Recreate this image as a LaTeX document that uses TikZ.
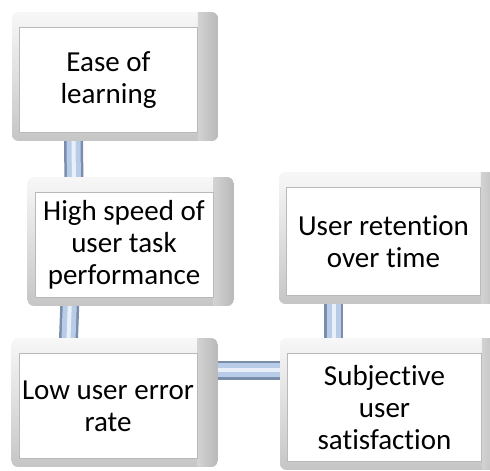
\documentclass[tikz,border=0pt]{standalone}
\usepackage{fontspec}
\setmainfont{Carlito}[Ligatures=NoCommon]
\usetikzlibrary{backgrounds}
\pgfdeclarelayer{frames}
\pgfsetlayers{background,frames,main}

\definecolor{tubeedge}{RGB}{122,142,172}
\definecolor{tubefill}{RGB}{184,204,232}
\definecolor{tubelight}{RGB}{232,239,249}

\tikzset{
  bevelbox/.style={rectangle, inner sep=0pt, minimum width=178pt,
    minimum height=105pt, align=center, fill=white, draw=gray!55,
    line width=0.8pt, font=\fontsize{29}{32}\selectfont},
  widebox/.style={bevelbox, minimum width=194pt, minimum height=108pt},
  tube/.style={draw=tubeedge, line width=19pt,
    postaction={draw=tubefill, line width=14pt},
    postaction={draw=tubelight, line width=4pt}}
}

\begin{document}
\begin{tikzpicture}[x=1pt, y=-1pt]
  \useasboundingbox (0,0) rectangle (490,471);

  \node[bevelbox] (ease)   at (108.5,80) {Ease of\\learning};
  \node[bevelbox] (speed)  at (124,245)  {High speed of\\user task\\performance};
  \node[bevelbox] (lowerr) at (108,406)  {Low user error\\rate};
  \node[widebox]  (retain) at (383.5,241.5) {User retention\\over time};
  \node[widebox]  (satisf) at (384.5,407.5) {Subjective\\user\\satisfaction};

  % bevelled frames round the boxes
  \begin{pgfonlayer}{frames}
    \foreach \n in {ease,speed,lowerr,retain,satisf} {
      \begin{scope}
        \clip[rounded corners=6pt] ([shift={(-7pt,15pt)}]\n.north west)
          rectangle ([shift={(20pt,-8pt)}]\n.south east);
        \shade[top color=gray!6, bottom color=gray!45]
          ([shift={(-7pt,15pt)}]\n.north west) rectangle ([shift={(20pt,-8pt)}]\n.south east);
        \shade[left color=gray!35, middle color=gray!78, right color=gray!55]
          ([yshift=15pt]\n.north east) rectangle ([shift={(20pt,-8pt)}]\n.south east);
      \end{scope}
    }
  \end{pgfonlayer}

  % connectors behind the boxes
  \begin{scope}[on background layer]
    \draw[tube] ([xshift=-35pt]ease.south) -- ([xshift=-50pt]speed.north);
    \draw[tube] ([xshift=-54pt]speed.south) -- ([xshift=-40pt]lowerr.north);
    \draw[tube] ([yshift=36pt]lowerr.east) -- ([yshift=36pt]lowerr.east -| satisf.west);
    \draw[tube] ([xshift=-50pt]retain.south) -- ([xshift=-50pt]retain.south |- satisf.north);
  \end{scope}
\end{tikzpicture}
\end{document}
